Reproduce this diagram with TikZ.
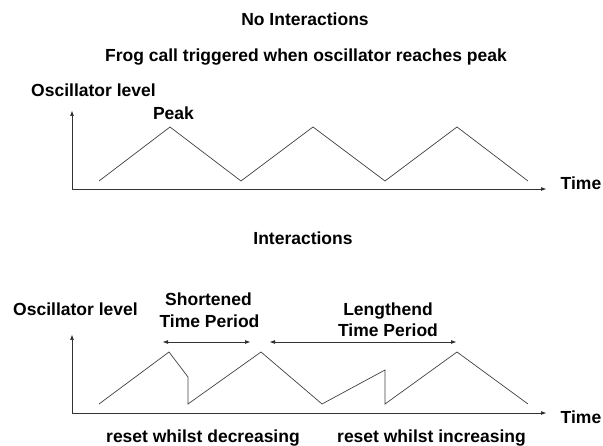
\documentclass[tikz,border=0pt]{standalone}
\usepackage{fontspec}
\setmainfont{Liberation Sans}
\usetikzlibrary{arrows.meta}
\begin{document}
\begin{tikzpicture}[x=1pt,y=-1pt,
  lbl/.style={font=\bfseries\fontsize{17.5}{22}\selectfont, inner sep=0pt, text=black, anchor=base},
  lblw/.style={lbl, anchor=base west},
  axis/.style={draw=black!80, line width=0.8pt, -{Triangle[length=5pt,width=3.5pt]}},
  wave/.style={draw=black!75, line width=0.7pt, line join=miter},
  span/.style={draw=black!80, line width=0.8pt, {Triangle[length=5pt,width=3.5pt]}-{Triangle[length=5pt,width=3.5pt]}}]
\useasboundingbox (0,0) rectangle (603,446);
% titles
\node[lbl] (t1) at (305,26) {No Interactions};
\node[lbl] (t2) at (306,62) {Frog call triggered when oscillator reaches peak};
\node[lbl] (t3) at (303,245) {Interactions};
% top chart
\node[lblw] (ol1) at (31,97) {Oscillator level};
\node[lbl] (pk) at (173.5,120) {Peak};
\node[lblw] (tm1) at (560.5,190) {Time};
\coordinate (o1) at (72,189);
\coordinate (ya1) at (72,111);
\coordinate (xa1) at (546,189);
\draw[axis] (o1) -- (ya1);
\draw[axis] (o1) -- (xa1);
\coordinate (a1) at (99,181);
\coordinate (a2) at (170,127);
\coordinate (a3) at (241,181);
\coordinate (a4) at (313,127);
\coordinate (a5) at (385,181);
\coordinate (a6) at (457,127);
\coordinate (a7) at (528,181);
\draw[wave] (a1) -- (a2) -- (a3) -- (a4) -- (a5) -- (a6) -- (a7);
% bottom chart
\node[lblw] (ol2) at (13,316) {Oscillator level};
\node[lbl] (sp1) at (208.5,306) {Shortened};
\node[lbl] (sp2) at (209.5,328) {Time Period};
\node[lbl] (lp1) at (388,316) {Lengthend};
\node[lbl] (lp2) at (388,337) {Time Period};
\node[lblw] (tm2) at (560.5,424) {Time};
\node[lblw] (rd) at (106,443) {reset whilst decreasing};
\node[lblw] (ri) at (337,443) {reset whilst increasing};
\coordinate (sa) at (163,342);
\coordinate (sb) at (250,342);
\coordinate (la) at (270,342);
\coordinate (lb) at (456,342);
\draw[span] (sa) -- (sb);
\draw[span] (la) -- (lb);
\coordinate (o2) at (72,413);
\coordinate (ya2) at (72,335);
\coordinate (xa2) at (546,413);
\draw[axis] (o2) -- (ya2);
\draw[axis] (o2) -- (xa2);
\coordinate (b1) at (99,404);
\coordinate (b2) at (169,352);
\coordinate (b3) at (188,377);
\coordinate (b4) at (188,404);
\coordinate (b5) at (261,352);
\coordinate (b6) at (322,404);
\coordinate (b7) at (385,370);
\coordinate (b8) at (385,404);
\coordinate (b9) at (457,352);
\coordinate (b10) at (528,404);
\draw[wave] (b1) -- (b2) -- (b3) -- (b4) -- (b5) -- (b6) -- (b7) -- (b8) -- (b9) -- (b10);
\end{tikzpicture}
\end{document}
